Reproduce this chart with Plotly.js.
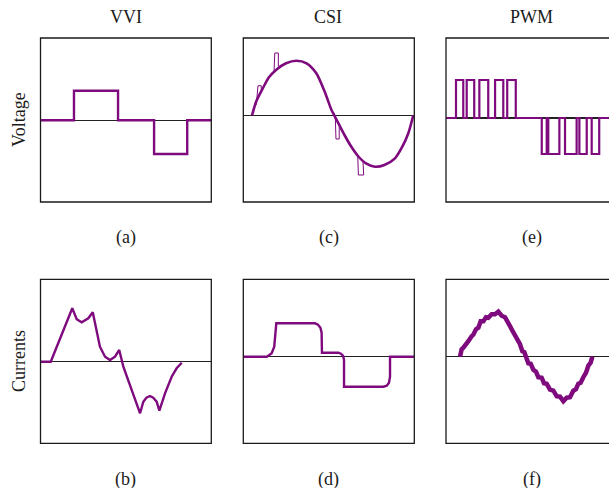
<!DOCTYPE html>
<html>
<head>
<meta charset="utf-8">
<script src="https://cdn.plot.ly/plotly-3.0.1.min.js"></script>
<style>html,body{margin:0;padding:0;background:#fff;}#chart{width:609px;height:488px;}</style>
</head>
<body>
<div id="chart"></div>
<script>
// ---------- data (time in % of panel width, amplitude in arbitrary units) ----------
var columnTitles = ["VVI", "CSI", "PWM"];
var rowTitles = ["Voltage", "Currents"];
var panelLabels = ["(a)", "(c)", "(e)", "(b)", "(d)", "(f)"];

// (a) VVI voltage: quasi-square steps
var vviVoltT = [0, 19.6, 19.6, 45.4, 45.4, 66.5, 66.5, 85.9, 85.9, 100];
var vviVoltV = [0, 0, 29.6, 29.6, 0, 0, -33.7, -33.7, 0, 0];

// (b) VVI current
var vviCurT = [0, 6.0, 18.6, 19.8, 21.2, 24.1, 28.0, 30.6, 32.9, 34.8, 37.8, 40.7, 43.6, 46.1, 48.5, 58.3, 60.2, 62.0, 64.1, 66.0, 68.0, 69.6, 72.9, 76.8, 79.7, 82.7];
var vviCurV = [0, 0, 53.5, 47.5, 42.5, 39.5, 43.5, 49.5, 31.8, 15.1, 5.1, 1.8, 5.1, 11.8, -4.9, -51.5, -39.9, -36.0, -34.2, -36.0, -39.9, -48.9, -31.5, -14.9, -6.5, -0.9];

// (c) CSI voltage: sine with commutation notches
var csiVoltT = [5.1, 7.6, 11.5, 15.0, 19.3, 25.0, 31.0, 37.0, 42.7, 47.5, 51.5, 53.2, 59.5, 63.0, 67.3, 72.0, 77.0, 82.5, 88.7, 93.0, 96.5, 99.4];
var csiVoltV = [0, 14, 27.3, 38, 45.6, 52, 54.6, 52, 42, 24, 5.6, 0, -20.7, -31, -41.2, -48.4, -51.4, -49.7, -43, -31.4, -18, 0];
var csiNotchT = [7.6, 8.6, 10.5, 10.5, null, 17.95, 18.4, 20.5, 20.5, null, 53.8, 54.2, 56.1, 56.1, null, 66.9, 67.3, 70.4, 70.0];
var csiNotchV = [10.6, 29.6, 29.6, 25.6, null, 42.3, 62.3, 62.3, 49, null, -2, -23.7, -23.7, -11.4, null, -39.7, -59.7, -59.7, -46.4];

// (d) CSI current: rounded quasi-square
var csiCurT = [0, 13.7, 15.0, 16.6, 18.1, 18.6, 19.1, 19.3, 41.9, 43.7, 45.1, 45.8, 46.0, 55.6, 57.1, 58.3, 58.9, 58.9, 81.9, 83.9, 85.2, 85.8, 85.8, 100];
var csiCurV = [0, 0, 1.5, 3.4, 10, 20, 32.4, 33.4, 33.4, 32, 29, 24, 4, 4, 3, 1, -3, -30, -30, -29, -26, -20, 0, 0];

// (e) PWM voltage: pulse edges
var pwmPosRise = [5.85, 12.1, 19.5, 28.7, 35.8];
var pwmPosFall = [10.1, 16.5, 24.7, 33.5, 40.8];
var pwmNegFall = [56.0, 59.8, 69.6, 78.0, 85.2];
var pwmNegRise = [58.9, 66.3, 76.4, 82.3, 89.6];
var pwmHigh = 38;
var pwmLow = -36;

// (f) PWM current: rippled sine
var pwmCurT = [8.19, 9.16, 10.14, 12.09, 13.06, 15.01, 15.98, 17.54, 18.91, 20.27, 21.83, 23.39, 24.76, 26.71, 28.65, 30.60, 32.55, 34.50, 35.87, 37.43, 38.99, 40.35, 41.71, 43.27, 44.64, 45.81, 46.78, 48.15, 49.51, 51.07, 52.63, 53.99, 55.95, 57.31, 58.87, 60.82, 62.77, 64.72, 66.67, 68.62, 70.57, 72.51, 74.46, 76.02, 77.39, 78.75, 80.31, 81.87, 83.24, 84.60, 85.57];
var pwmCurV = [0, 7.5, 9, 12.5, 15.5, 20.5, 22, 27.5, 29, 35.5, 35.5, 39.5, 39, 42.5, 42.5, 45, 41, 39.5, 34, 30.5, 25.5, 21.5, 15.5, 12.5, 5.5, 4.5, 0, -6.5, -7, -13, -15, -20.5, -21, -26.5, -27, -33, -34, -39.5, -40, -44.5, -41, -40.5, -34, -32.5, -27, -26, -20.5, -16, -9, -6, 0];

// ---------- build ----------
var purple = "#7e0a7e";
function pwmWave() {
  var x = [0], y = [0];
  for (var i = 0; i < pwmPosRise.length; i++) {
    x.push(pwmPosRise[i], pwmPosRise[i], pwmPosFall[i], pwmPosFall[i]);
    y.push(0, pwmHigh, pwmHigh, 0);
  }
  for (var j = 0; j < pwmNegFall.length; j++) {
    x.push(pwmNegFall[j], pwmNegFall[j], pwmNegRise[j], pwmNegRise[j]);
    y.push(0, pwmLow, pwmLow, 0);
  }
  x.push(100); y.push(0);
  return {x: x, y: y};
}
var pw = pwmWave();

function tr(x, y, ax, w, shape, smooth) {
  var ln = {color: purple, width: w, shape: shape || "linear"};
  if (smooth !== undefined) ln.smoothing = smooth;
  return {x: x, y: y, xaxis: "x" + ax, yaxis: "y" + ax, mode: "lines", type: "scatter",
          line: ln, hoverinfo: "skip", showlegend: false};
}
var traces = [
  tr(vviVoltT, vviVoltV, "", 2.4),
  tr(csiVoltT, csiVoltV, "2", 2.6, "spline", 0.7),
  tr(csiNotchT, csiNotchV, "2", 1),
  tr(pw.x, pw.y, "3", 2.2),
  tr(vviCurT, vviCurV, "4", 2.4),
  tr(csiCurT, csiCurV, "5", 2.4),
  tr(pwmCurT, pwmCurV, "6", 4.5)
];
traces[0].xaxis = "x"; traces[0].yaxis = "y";

var W = 609, H = 488;
var colX = [[40.5, 211.3], [243.3, 414.3], [446, 617]];
var rowY = [[38, 202], [279.3, 443.3]];
var yRanges = [[-81.7, 82.3], [-86.7, 77.3], [-84, 80], [-81.5, 82.5], [-86.6, 77.4], [-86.6, 77.4]];

var layout = {
  width: W, height: H, margin: {l: 0, r: 0, t: 0, b: 0},
  paper_bgcolor: "#fff", plot_bgcolor: "#fff", showlegend: false,
  font: {family: "Liberation Serif, Times New Roman, serif", color: "#1a1a1a", size: 18},
  shapes: [], annotations: []
};
for (var r = 0; r < 2; r++) {
  for (var c = 0; c < 3; c++) {
    var k = r * 3 + c, suffix = k === 0 ? "" : String(k + 1);
    var x0 = colX[c][0], x1 = Math.min(colX[c][1], W);
    var fullW = colX[c][1] - colX[c][0];
    var xr = 100 * (x1 - x0) / fullW;
    layout["xaxis" + suffix] = {domain: [x0 / W, x1 / W], range: [0, xr], showgrid: false, zeroline: false,
      showticklabels: false, ticks: "", showline: false, fixedrange: true, anchor: "y" + suffix};
    layout["yaxis" + suffix] = {domain: [1 - rowY[r][1] / H, 1 - rowY[r][0] / H], range: yRanges[k], showgrid: false,
      zeroline: true, zerolinecolor: "#222", zerolinewidth: 1.2, showticklabels: false, ticks: "", showline: false,
      fixedrange: true, anchor: "x" + suffix};
    layout.shapes.push({type: "rect", xref: "paper", yref: "paper",
      x0: colX[c][0] / W, x1: colX[c][1] / W, y0: 1 - rowY[r][1] / H, y1: 1 - rowY[r][0] / H,
      line: {color: "#1a1a1a", width: 1.3}, fillcolor: "rgba(0,0,0,0)"});
    layout.annotations.push({text: panelLabels[k], xref: "paper", yref: "paper", showarrow: false,
      x: (colX[c][0] + colX[c][1]) / 2 / W, y: 1 - (rowY[r][1] + 36) / H,
      xanchor: "center", yanchor: "middle", font: {size: 18}});
  }
}
var titleX = [126, 328, 531];
for (var i = 0; i < 3; i++) {
  layout.annotations.push({text: columnTitles[i], xref: "paper", yref: "paper", showarrow: false,
    x: titleX[i] / W, y: 1 - 17 / H, xanchor: "center", yanchor: "middle", font: {size: 18}});
}
var rowLabY = [120, 361];
for (var j = 0; j < 2; j++) {
  layout.annotations.push({text: rowTitles[j], xref: "paper", yref: "paper", showarrow: false, textangle: -90,
    x: 19 / W, y: 1 - rowLabY[j] / H, xanchor: "center", yanchor: "middle", font: {size: 18}});
}
Plotly.newPlot("chart", traces, layout, {staticPlot: true, displayModeBar: false});
</script>
</body>
</html>
